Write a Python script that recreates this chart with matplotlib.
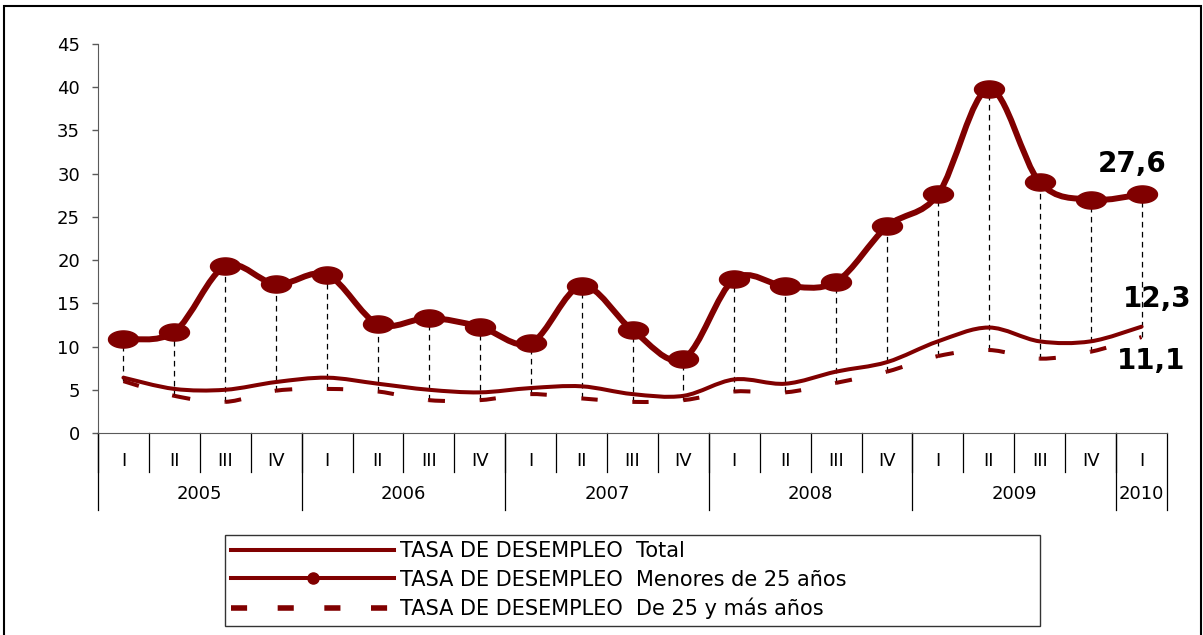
"""
Tasa de desempleo trimestral 2005-2010: total, menores de 25 y de 25 y mas
"""

import numpy as np

import matplotlib
matplotlib.use('Agg')
import matplotlib.pyplot as plt
from matplotlib.path import Path
from matplotlib.patches import PathPatch, Rectangle
from matplotlib.lines import Line2D
import matplotlib.transforms as mtransforms

plt.rcParams['font.family'] = ['DejaVu Sans']

# Data
quarters = ['I', 'II', 'III', 'IV'] * 5 + ['I']
years = ['2005', '2006', '2007', '2008', '2009', '2010']
quarters_per_year = [4, 4, 4, 4, 4, 1]

total = [6.4, 5.1, 5.0, 5.9, 6.4, 5.7, 5.0, 4.7, 5.2, 5.4, 4.5,
         4.3, 6.2, 5.7, 7.1, 8.2, 10.6, 12.2, 10.6, 10.6, 12.3]
menores_25 = [10.9, 11.7, 19.3, 17.2, 18.3, 12.6, 13.3, 12.3, 10.4, 17.0, 11.9,
              8.6, 17.8, 17.0, 17.5, 23.9, 27.6, 39.8, 29.0, 27.0, 27.6]
de_25_y_mas = [6.0, 4.3, 3.6, 4.9, 5.1, 4.8, 3.8, 3.8, 4.5, 4.0, 3.6,
               3.8, 4.8, 4.7, 5.8, 7.1, 8.9, 9.6, 8.6, 9.4, 11.1]

RED = '#800000'
AXIS_GREY = '#5a5a5a'


def smooth_path(xs, ys):
    # Excel-like smoothed line: cubic bezier through every point
    pts = np.column_stack((xs, ys)).astype(float)
    n = len(pts)
    verts = [pts[0]]
    codes = [Path.MOVETO]
    for i in range(n - 1):
        p0 = pts[i - 1] if i > 0 else pts[i]
        p1 = pts[i]
        p2 = pts[i + 1]
        p3 = pts[i + 2] if i + 2 < n else pts[i + 1]
        c1 = p1 + (p2 - p0) / 6.0
        c2 = p2 - (p3 - p1) / 6.0
        verts += [c1, c2, p2]
        codes += [Path.CURVE4] * 3
    return Path(verts, codes)


def segment_paths(xs, ys):
    # one bezier piece per interval, so the dash restarts at each point
    full = smooth_path(xs, ys)
    v = full.vertices
    out = []
    for i in range(len(xs) - 1):
        seg = [v[3 * i], v[3 * i + 1], v[3 * i + 2], v[3 * i + 3]]
        out.append(Path(seg, [Path.MOVETO] + [Path.CURVE4] * 3))
    return out


fig = plt.figure(figsize=(12.03, 6.35), dpi=100)
ax = fig.add_axes([98 / 1203, 1 - 433 / 635, (1167 - 98) / 1203, (433 - 44) / 635])

x = np.arange(len(quarters))

# high-low lines
ax.vlines(x, de_25_y_mas, menores_25, colors='black', linestyles=(0, (4.5, 3.5)),
          linewidth=0.9, zorder=1)

# total
ax.add_patch(PathPatch(smooth_path(x, total), fill=False, edgecolor=RED,
                       linewidth=2.9, capstyle='round', zorder=3))

# de 25 y mas, dashed
for p in segment_paths(x, de_25_y_mas):
    ax.add_patch(PathPatch(p, fill=False, edgecolor=RED, linewidth=2.9,
                           linestyle=(0, (4.0, 8.6)), capstyle='butt', zorder=2))

# menores de 25
ax.add_patch(PathPatch(smooth_path(x, menores_25), fill=False, edgecolor=RED,
                       linewidth=4.3, capstyle='round', zorder=4))
t = np.linspace(0, 2 * np.pi, 60)
ellipse = np.column_stack((1.75 * np.cos(t), np.sin(t)))
ax.plot(x, menores_25, linestyle='none', marker=ellipse, markersize=21.6,
        color=RED, zorder=5)

# end labels
fmt = lambda v: ('%.1f' % v).replace('.', ',')
ax.annotate(fmt(menores_25[-1]), xy=(x[-1], menores_25[-1]), xytext=(-7, 22),
            textcoords='offset points', ha='center', va='center',
            fontsize=20, fontweight='bold')
ax.annotate(fmt(total[-1]), xy=(x[-1], total[-1]), xytext=(11, 20),
            textcoords='offset points', ha='center', va='center',
            fontsize=20, fontweight='bold', annotation_clip=False)
ax.annotate(fmt(de_25_y_mas[-1]), xy=(x[-1], de_25_y_mas[-1]), xytext=(7, -17),
            textcoords='offset points', ha='center', va='center',
            fontsize=20, fontweight='bold', annotation_clip=False)

ax.set_xlim(-0.5, len(quarters) - 0.5)
ax.set_ylim(0, 45)
ax.set_yticks(range(0, 50, 5))
ax.tick_params(axis='y', length=4, width=1, color=AXIS_GREY, labelsize=13, pad=9)
ax.set_xticks([])
for s in ['top', 'right']:
    ax.spines[s].set_visible(False)
ax.spines['left'].set_color(AXIS_GREY)
ax.spines['bottom'].set_color(AXIS_GREY)

# two-level category axis
trans = mtransforms.blended_transform_factory(ax.transData, ax.transAxes)
for i, q in enumerate(quarters):
    ax.text(i, -0.072, q, transform=trans, ha='center', va='center', fontsize=13)
    ax.plot([i - 0.5, i - 0.5], [0, -0.10], transform=trans, color='black',
            linewidth=0.9, clip_on=False)
start = 0
for yr, n in zip(years, quarters_per_year):
    ax.text(start + (n - 1) / 2, -0.158, yr, transform=trans, ha='center',
            va='center', fontsize=13)
    ax.plot([start - 0.5, start - 0.5], [0, -0.198], transform=trans,
            color='black', linewidth=0.9, clip_on=False)
    start += n
ax.plot([start - 0.5, start - 0.5], [0, -0.198], transform=trans,
        color='black', linewidth=0.9, clip_on=False)

# legend
handles = [
    Line2D([], [], color=RED, linewidth=2.9),
    Line2D([], [], color=RED, linewidth=2.9, marker='o', markersize=8),
    Line2D([], [], color=RED, linewidth=4, linestyle=(0, (2.9, 5.5))),
]
labels = ['TASA DE DESEMPLEO  Total',
          'TASA DE DESEMPLEO  Menores de 25 años',
          'TASA DE DESEMPLEO  De 25 y más años']
leg = fig.legend(handles, labels, loc='upper left',
                 bbox_to_anchor=(225 / 1203, 1 - 535 / 635, (1040 - 225) / 1203, 0.0),
                 mode='expand', borderaxespad=0, fontsize=15, handlelength=7.8,
                 handletextpad=0.3, labelspacing=0.4, borderpad=0.3,
                 fancybox=False, frameon=True)
leg.get_frame().set_edgecolor('black')
leg.get_frame().set_linewidth(1.0)

# outer frame of the chart area
fig.add_artist(Rectangle((4 / 1203, -0.02), (1201 - 4) / 1203, 1 - 6 / 635 + 0.02,
                         transform=fig.transFigure, fill=False,
                         edgecolor='black', linewidth=1.5))

fig.savefig('out.png', dpi=100)
